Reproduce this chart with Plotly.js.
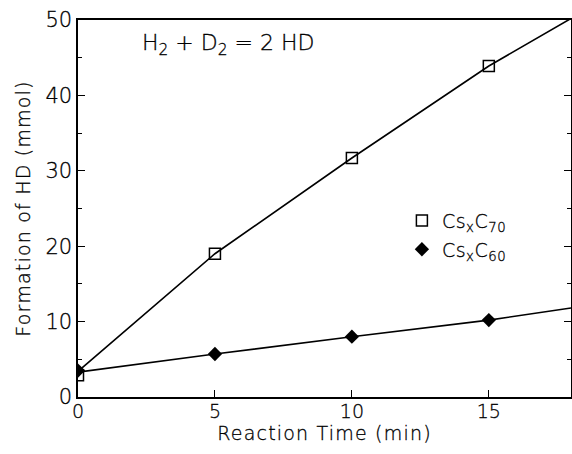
<!DOCTYPE html>
<html>
<head>
<meta charset="utf-8">
<script src="https://cdn.plot.ly/plotly-3.0.1.min.js"></script>
<style>
html,body{margin:0;padding:0;background:#fff;}
#chart{width:572px;height:454px;}
#chart .xtitle{letter-spacing:1.2px;}
#chart .ytitle{letter-spacing:1.2px;}
#chart .legendtext{letter-spacing:0.5px;}
#chart text{stroke:#000;stroke-width:0.3px;}
</style>
</head>
<body>
<div id="chart"></div>
<script>
// Measured points
var timeMin = [0, 5, 10, 15];
var c70Values = [2.9, 19.0, 31.7, 43.9];
var c60Values = [3.5, 5.7, 8.0, 10.2];
// Drawn trend lines
var c70LineX = [0, 5, 10, 15, 18];
var c70LineY = [3.4, 19.0, 31.7, 43.9, 50.2];
var c60LineX = [0, 5, 10, 15, 18];
var c60LineY = [3.3, 5.7, 8.0, 10.2, 11.8];
var xTicks = [0, 5, 10, 15];
var yTicks = [0, 10, 20, 30, 40, 50];
var seriesNames = ['Cs<sub>x</sub>C<sub>70</sub>', 'Cs<sub>x</sub>C<sub>60</sub>'];

var fontFam = '"DejaVu Sans", "Liberation Sans", sans-serif';
var ink = '#000';
var fw = 200;

var traces = [
  {x: c70LineX, y: c70LineY, mode: 'lines', line: {color: ink, width: 1.6}, showlegend: false, hoverinfo: 'skip'},
  {x: c60LineX, y: c60LineY, mode: 'lines', line: {color: ink, width: 1.6}, showlegend: false, hoverinfo: 'skip'},
  {x: timeMin, y: c70Values, mode: 'markers', name: seriesNames[0], legendgroup: 'a',
   marker: {symbol: 'square-open', size: 11, color: ink, line: {width: 1.5, color: ink}}},
  {x: timeMin, y: c60Values, mode: 'markers', name: seriesNames[1], legendgroup: 'b',
   marker: {symbol: 'diamond', size: 11, color: ink}}
];

var layout = {
  width: 572, height: 454,
  margin: {l: 78, r: 1, t: 20, b: 57},
  paper_bgcolor: '#fff', plot_bgcolor: '#fff',
  font: {family: fontFam, color: ink, weight: fw},
  showlegend: true,
  legend: {x: 0.657, y: 0.518, xanchor: 'left', yanchor: 'top', bgcolor: 'rgba(0,0,0,0)',
           font: {size: 19, family: fontFam, color: ink, weight: fw}, tracegroupgap: 1, itemwidth: 30},
  xaxis: {
    range: [0, 18], tickvals: xTicks, ticktext: xTicks.map(String),
    ticks: 'inside', ticklen: 7, tickwidth: 1, tickcolor: ink,
    showline: true, linewidth: 1.6, linecolor: ink, mirror: true,
    showgrid: false, zeroline: false, ticklabelstandoff: -3,
    tickfont: {size: 19, family: fontFam, color: ink, weight: fw},
    title: {text: 'Reaction Time (min)', font: {size: 19, family: fontFam, color: ink, weight: fw}, standoff: 4}
  },
  yaxis: {
    range: [0, 50], tickvals: yTicks, ticktext: yTicks.map(String),
    ticks: 'inside', ticklen: 7, tickwidth: 1, tickcolor: ink,
    minor: {dtick: 5, ticks: 'inside', ticklen: 4, tickwidth: 1, tickcolor: ink, tick0: 0},
    showline: true, linewidth: 1.6, linecolor: ink, mirror: 'ticks',
    showgrid: false, zeroline: false,
    tickfont: {size: 21, family: fontFam, color: ink, weight: fw},
    title: {text: 'Formation of HD (mmol)', font: {size: 19, family: fontFam, color: ink, weight: fw}, standoff: 10}
  },
  annotations: [{
    xref: 'paper', yref: 'paper', x: 0.125, y: 0.935, xanchor: 'left', yanchor: 'middle',
    text: 'H<sub>2</sub> + D<sub>2</sub> = 2 HD', showarrow: false,
    font: {size: 22, family: fontFam, color: ink, weight: fw}
  }]
};

Plotly.newPlot('chart', traces, layout, {staticPlot: true, displayModeBar: false});
</script>
</body>
</html>
